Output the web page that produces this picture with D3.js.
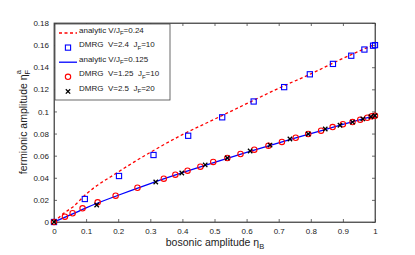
<!DOCTYPE html>
<html><head><meta charset="utf-8">
<script src="https://cdn.jsdelivr.net/npm/d3@7"></script>
<style>body{margin:0;background:#fff}svg{display:block}text{font-family:"Liberation Sans",Arial,sans-serif;white-space:pre}</style>
</head><body>
<script>
// analytic V/JF = 0.24 (red dashed)
const analytic024X = [0,0.03,0.06,0.1,0.2,0.3,0.4,0.5,0.6,0.7,0.8,0.9,1.0];
const analytic024Y = [0,0.0078,0.0139,0.0252,0.0452,0.063,0.079,0.093,0.107,0.121,0.134,0.148,0.1607];
// DMRG V=2.4 JF=10 (blue squares)
const sqX = [0,0.096,0.2025,0.31,0.418,0.524,0.622,0.717,0.797,0.869,0.926,0.967,0.994,1.0];
const sqY = [0,0.0208,0.0416,0.0606,0.078,0.0947,0.109,0.122,0.1336,0.143,0.1504,0.156,0.1595,0.16];
// analytic V/JF = 0.125 (blue solid)
const analytic0125X = [0,0.06,0.1,0.2,0.3,0.4,0.5,0.6,0.7,0.8,0.9,1.0];
const analytic0125Y = [0,0.0075,0.0128,0.0242,0.0348,0.0446,0.054,0.063,0.0716,0.0799,0.0882,0.0962];
// DMRG V=1.25 JF=10 (red circles)
const circX = [0,0.034,0.058,0.089,0.136,0.192,0.26,0.342,0.378,0.416,0.456,0.496,0.54,0.581,0.624,0.668,0.71,0.753,0.792,0.832,0.868,0.9,0.93,0.954,0.976,0.99,1.0];
const circY = [0,0.0048,0.0079,0.0124,0.0178,0.0238,0.031,0.0392,0.0428,0.0464,0.05,0.0543,0.0579,0.0615,0.0654,0.069,0.0724,0.0762,0.0796,0.0826,0.0859,0.0884,0.0904,0.0925,0.0943,0.0956,0.0962];
// DMRG V=2.5 JF=20 (black crosses)
const crossX = [0,0.133,0.317,0.398,0.471,0.54,0.611,0.673,0.735,0.792,0.845,0.891,0.93,0.962,0.987,1.0];
const crossY = [0,0.0154,0.0362,0.0443,0.0516,0.0579,0.0642,0.0696,0.0751,0.0796,0.0841,0.0875,0.0904,0.0932,0.0952,0.0962];
const xTicks = [0,0.1,0.2,0.3,0.4,0.5,0.6,0.7,0.8,0.9,1];
const xTickLabels = ["0","0.1","0.2","0.3","0.4","0.5","0.6","0.7","0.8","0.9","1"];
const yTicks = [0,0.02,0.04,0.06,0.08,0.1,0.12,0.14,0.16,0.18];
const yTickLabels = ["0","0.02","0.04","0.06","0.08","0.1","0.12","0.14","0.16","0.18"];

const W=415,H=255, L=54, R=375, T=23, B=222;
const svg = d3.select("body").append("svg").attr("width",W).attr("height",H);
svg.append("rect").attr("width",W).attr("height",H).attr("fill","#fff");
const x = d3.scaleLinear().domain([0,1]).range([L,R]);
const y = d3.scaleLinear().domain([0,0.18]).range([B,T]);
const axisCol="#444";
const fs=8;

// axes
const gx = svg.append("g").attr("transform",`translate(0,${B})`)
  .call(d3.axisBottom(x).tickValues(xTicks).tickFormat((d,i)=>xTickLabels[i]).tickSizeInner(-3).tickSizeOuter(0).tickPadding(6));
const gxt = svg.append("g").attr("transform",`translate(0,${T})`)
  .call(d3.axisTop(x).tickValues(xTicks).tickFormat("").tickSizeInner(-3).tickSizeOuter(0));
const gy = svg.append("g").attr("transform",`translate(${L},0)`)
  .call(d3.axisLeft(y).tickValues(yTicks).tickFormat((d,i)=>yTickLabels[i]).tickSizeInner(-3).tickSizeOuter(0).tickPadding(5));
const gyr = svg.append("g").attr("transform",`translate(${R},0)`)
  .call(d3.axisRight(y).tickValues(yTicks).tickFormat("").tickSizeInner(-3).tickSizeOuter(0));
[gx,gxt,gy,gyr].forEach(g=>{
  g.selectAll("path,line").attr("stroke",axisCol).attr("stroke-width",0.8);
  g.selectAll("text").attr("font-size",fs).attr("fill","#222").attr("font-family","Liberation Sans, Arial, sans-serif");
});
svg.append("rect").attr("x",L).attr("y",T).attr("width",R-L).attr("height",B-T)
  .attr("fill","none").attr("stroke",axisCol).attr("stroke-width",0.8);

const line = d3.line().x(d=>x(d[0])).y(d=>y(d[1])).curve(d3.curveMonotoneX);
svg.append("path").datum(analytic0125X.map((v,i)=>[v,analytic0125Y[i]]))
  .attr("d",line).attr("fill","none").attr("stroke","#0000ff").attr("stroke-width",1.3);
svg.append("path").datum(analytic024X.map((v,i)=>[v,analytic024Y[i]]))
  .attr("d",line).attr("fill","none").attr("stroke","#ff0000").attr("stroke-width",1.3).attr("stroke-dasharray","3,2.5");

function square(g,cx,cy){g.append("rect").attr("x",cx-2.6).attr("y",cy-2.6).attr("width",5.2).attr("height",5.2)
  .attr("fill","none").attr("stroke","#0000ff").attr("stroke-width",1.1);}
function circle(g,cx,cy){g.append("circle").attr("cx",cx).attr("cy",cy).attr("r",2.7)
  .attr("fill","none").attr("stroke","#ff0000").attr("stroke-width",1.1);}
function cross(g,cx,cy){const s=2.2;g.append("path").attr("d",`M${cx-s},${cy-s}L${cx+s},${cy+s}M${cx-s},${cy+s}L${cx+s},${cy-s}`)
  .attr("stroke","#000").attr("stroke-width",1.3);}

const gm = svg.append("g");
sqX.forEach((v,i)=>square(gm,x(v),y(sqY[i])));
circX.forEach((v,i)=>circle(gm,x(v),y(circY[i])));
crossX.forEach((v,i)=>cross(gm,x(v),y(crossY[i])));

// legend
const lg = svg.append("g");
lg.append("rect").attr("x",55).attr("y",24).attr("width",115).attr("height",76)
  .attr("fill","#fff").attr("stroke",axisCol).attr("stroke-width",0.8);
const items = [
  {type:"dash",parts:["analytic V/J","F","=0.24"]},
  {type:"sq",parts:["DMRG  V=2.4  J","F","=10"]},
  {type:"line",parts:["analytic V/J","F","=0.125"]},
  {type:"circ",parts:["DMRG  V=1.25  J","F","=10"]},
  {type:"cross",parts:["DMRG  V=2.5  J","F","=20"]}
];
items.forEach((it,i)=>{
  const cy = 33 + i*14.6;
  if(it.type==="dash") lg.append("line").attr("x1",59).attr("x2",77).attr("y1",cy).attr("y2",cy).attr("stroke","#ff0000").attr("stroke-width",1.3).attr("stroke-dasharray","3,2.5");
  if(it.type==="line") lg.append("line").attr("x1",59).attr("x2",77).attr("y1",cy).attr("y2",cy).attr("stroke","#0000ff").attr("stroke-width",1.3);
  if(it.type==="sq") square(lg,68,cy);
  if(it.type==="circ") circle(lg,68,cy);
  if(it.type==="cross") cross(lg,68,cy);
  const t = lg.append("text").attr("x",79).attr("y",cy-0.5).attr("font-size",8).attr("fill","#222");
  t.append("tspan").text(it.parts[0]);
  t.append("tspan").attr("dy",2.5).attr("font-size",6).text(it.parts[1]);
  t.append("tspan").attr("dy",-2.5).text(it.parts[2]);
});

// axis labels
const xl = svg.append("text").attr("x",215).attr("y",246).attr("text-anchor","middle").attr("font-size",10.5).attr("fill","#222");
xl.append("tspan").text("bosonic amplitude η");
xl.append("tspan").attr("dy",3).attr("font-size",7.5).text("B");

const yl = svg.append("text").attr("transform","translate(27,122) rotate(-90)").attr("text-anchor","middle").attr("font-size",10.5).attr("fill","#222");
yl.append("tspan").text("fermionic amplitude η");
yl.append("tspan").attr("dy",3).attr("font-size",7.5).text("F");
yl.append("tspan").attr("dx",-4.5).attr("dy",-9).attr("font-size",7.5).text("a");
</script>
</body></html>
